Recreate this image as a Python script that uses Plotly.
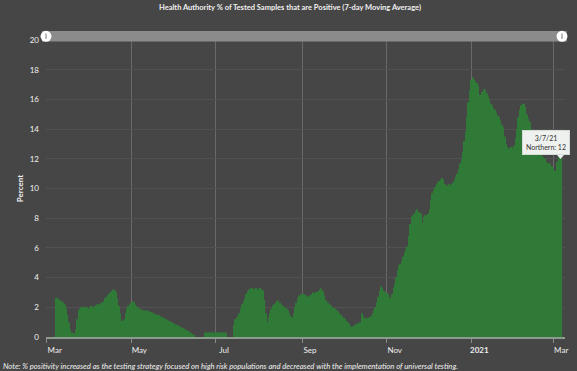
import pandas as pd
import plotly.graph_objects as go

TITLE = "Health Authority % of Tested Samples that are Positive (7-day Moving Average)"
NOTE = "Note: % positivity increased as the testing strategy focused on high risk populations and decreased with the implementation of universal testing."
SERIES_NAME = "Northern"
LAST_DATE = "2021-03-07"

# daily 7-day moving average (%), ending 2021-03-07; None = no data
values = [
    2.65, 2.6, 2.5, 2.45,
    2.4, 2.3, 2.2, 1.9,
    1.5, 1.0, 0.5, 0.3,
    0.2, 0.25, 0.5,
    1.2, 1.8, 1.9, 2.0, 2.0, 1.95, 2.05, 2.0, 1.9, 2.0, 2.1, 2.05, 2.0,
    2.1, 2.2, 2.15, 2.2, 2.3, 2.3, 2.4,
    2.6, 2.7, 2.8, 2.9, 3.0,
    3.1, 3.2, 3.15, 3.0,
    2.6, 2.1, 1.6, 1.1, 0.8,
    1.2, 1.6, 1.9, 2.1, 2.2, 2.3, 2.4, 2.35,
    2.2, 2.05, 1.95, 1.9,
    1.85, 1.8, 1.8, 1.75, 1.8, 1.75, 1.7, 1.7, 1.65,
    1.6, 1.55, 1.5, 1.5, 1.45, 1.4, 1.35,
    1.3, 1.25, 1.2, 1.15, 1.1, 1.05, 1.0,
    0.95, 0.9, 0.85, 0.8, 0.75, 0.7, 0.65, 0.6, 0.55,
    0.5, 0.45, 0.4, 0.3, 0.25, 0.2, 0.15,
    None, None, None, None, None, None, None,
    0.3, 0.3, 0.3, 0.3, 0.3, 0.3, 0.3, 0.3, 0.3, 0.3, 0.3, 0.3, 0.3, 0.3, 0.3, 0.3,
    None, None, None, None, None,
    0.8, 1.2, 1.3, 1.4, 1.6, 1.9,
    2.2, 2.4, 2.6, 2.9, 3.1, 3.2,
    3.3, 3.3, 3.2, 3.25, 3.3, 3.2, 3.25, 3.3, 3.2, 3.1,
    2.5, 1.6, 1.0, 1.3,
    1.6, 1.9, 2.1, 2.2, 2.3, 2.4, 2.45,
    2.3, 2.2, 2.1, 2.0, 2.0, 1.9, 1.8, 1.6,
    1.4, 1.3, 1.6,
    2.0, 2.3, 2.6, 2.8, 2.9, 2.8, 2.9, 2.85,
    2.8, 2.75, 2.7, 2.8, 2.9, 3.0, 2.95, 3.0, 3.05, 3.1, 3.2,
    3.27, 3.1,
    2.8, 2.5, 2.3, 2.3, 2.2, 2.1,
    2.0, 1.95, 1.9, 1.8, 1.7, 1.6, 1.5,
    1.4, 1.3, 1.2, 1.1, 1.0, 0.9, 0.7,
    0.6, 0.7, 0.8, 0.85, 0.9, 0.95, 1.0,
    1.6, 1.4,
    1.25, 1.3, 1.25, 1.3, 1.35, 1.4, 1.6,
    1.8, 2.0, 2.3, 2.7, 3.1,
    3.4, 3.3, 3.1,
    3.0, 2.95, 2.9, 2.7,
    2.6, 2.9,
    3.3, 3.6, 4.0, 4.5,
    4.8, 4.9, 5.1, 5.4, 5.7,
    5.9, 6.1, 6.8, 7.6,
    8.1, 8.2, 8.3, 8.5, 8.6, 8.4,
    8.4, 8.3,
    7.7,
    8.1, 8.2, 8.2, 8.3, 8.6,
    9.2, 9.7, 9.9, 10.1, 10.3,
    10.4, 10.5, 10.6, 10.7, 10.6,
    10.3, 10.2, 10.2, 10.3, 10.2, 10.3, 10.4,
    10.6, 10.8, 11.0, 11.3, 11.7,
    12.0, 12.5, 13.2, 13.8, 14.8,
    15.8, 16.6, 17.3,
    17.5, 17.3, 17.2, 17.1, 16.9,
    16.3, 16.1, 16.5, 16.7, 16.6,
    16.4, 16.2, 16.0, 15.7, 15.6,
    15.4, 15.3, 15.1, 14.9, 14.8, 14.6,
    14.3, 14.1, 13.5, 13.0, 12.8, 12.7,
    12.6, 12.8, 12.7, 12.9, 13.4,
    14.0, 14.8, 15.3, 15.6, 15.7,
    15.7, 15.5, 15.0, 14.7, 14.5,
    14.0, 13.8, 13.6, 13.3, 13.0, 12.8,
    12.6, 12.3, 12.2, 12.1, 12.0, 11.8,
    11.7, 11.6, 11.7, 11.5, 11.4, 11.2, 11.0,
    11.8, 12.1, 12.0, 12.0,
]

tick_dates = ["2020-03-01", "2020-05-01", "2020-07-01", "2020-09-01",
              "2020-11-01", "2021-01-01", "2021-03-01"]
tick_labels = ["Mar", "May", "Jul", "Sep", "Nov", "<b>2021</b>", "Mar"]
y_ticks = [0, 2, 4, 6, 8, 10, 12, 14, 16, 18, 20]

dates = pd.date_range(end=LAST_DATE, periods=len(values), freq="D")

BG = "#464646"
TIP_BG = "#eef1ee"
FONT = "Lato"

fig = go.Figure()
fig.add_trace(go.Bar(
    x=dates, y=values, name=SERIES_NAME,
    marker=dict(color="#2f7a36", line=dict(width=0)),
))

W, H = 577, 371
ml, mr, mt, mb = 46, 9, 40, 34
pw, ph = W - ml - mr, H - mt - mb

def px_x(px):
    return (px - ml) / pw

def px_y(py):
    return (H - mb - py) / ph

shapes = [
    dict(type="rect", xref="paper", yref="paper", x0=px_x(42), x1=px_x(570),
         y0=px_y(41.5), y1=px_y(31), fillcolor="#8b8b8b", line=dict(width=0), layer="above"),
]
for cx in (46, 565):
    shapes.append(dict(type="circle", xref="paper", yref="paper",
                       x0=px_x(cx - 5.5), x1=px_x(cx + 5.5), y0=px_y(41.8), y1=px_y(30.8),
                       fillcolor="white", line=dict(width=0), layer="above"))
    shapes.append(dict(type="rect", xref="paper", yref="paper",
                       x0=px_x(cx - 1), x1=px_x(cx + 1), y0=px_y(39), y1=px_y(33.5),
                       fillcolor="#bdbdbd", line=dict(width=0), layer="above"))
# small pointer under the tooltip
shapes.append(dict(type="path", xref="paper", yref="paper", layer="above",
                   path="M {:.5f},{:.5f} L {:.5f},{:.5f} L {:.5f},{:.5f} Z".format(
                       px_x(560), px_y(155), px_x(567), px_y(155), px_x(563.5), px_y(159)),
                   fillcolor=TIP_BG, line=dict(width=0)))

annotations = [
    dict(text="<b>" + TITLE + "</b>", xref="paper", yref="paper",
         x=px_x(291), y=px_y(7.5), xanchor="center", yanchor="middle",
         showarrow=False, font=dict(family=FONT, size=7.5, color="#f0f0f0")),
    dict(text="<i>" + NOTE + "</i>", xref="paper", yref="paper",
         x=px_x(1), y=px_y(366), xanchor="left", yanchor="middle",
         showarrow=False, font=dict(family=FONT, size=7.7, color="#f2f2f2")),
    dict(text=pd.Timestamp(LAST_DATE).strftime("%-m/%-d/%y") + "<br>" + SERIES_NAME + ": " + f"{values[-1]:g}",
         x=dates[-1], y=values[-1], xref="x", yref="y",
         xanchor="center", yanchor="bottom", xshift=-16, yshift=4,
         showarrow=False, bgcolor=TIP_BG, bordercolor="#d4dad4", borderwidth=1,
         borderpad=3, font=dict(family=FONT, size=7, color="#333333")),
]

fig.update_layout(
    width=W, height=H,
    margin=dict(l=ml, r=mr, t=mt, b=mb),
    paper_bgcolor=BG, plot_bgcolor=BG,
    font=dict(family=FONT, color="#f0f0f0", size=8),
    showlegend=False,
    bargap=0.15,
    shapes=shapes,
    annotations=annotations,
    xaxis=dict(
        type="date",
        range=["2020-02-29 12:00", "2021-03-09 12:00"],
        tickvals=tick_dates, ticktext=tick_labels,
        ticks="outside", ticklen=4, tickcolor="#8a8a8a",
        ticklabelshift=8,
        showgrid=True, gridcolor="#6a6a6a", gridwidth=1,
        showline=True, linecolor="#8e9c8e", linewidth=2,
        zeroline=False,
        tickfont=dict(size=8, color="#f0f0f0"),
    ),
    yaxis=dict(
        range=[0, 20], tickvals=y_ticks,
        showgrid=True, gridcolor="#525252", gridwidth=1,
        zeroline=False, showline=False,
        ticklabelstandoff=6,
        tickfont=dict(size=8, color="#f0f0f0"),
        title=dict(text="<b>Percent</b>", font=dict(size=8, color="#f0f0f0"), standoff=4),
    ),
)

fig.write_html("out.html", config={"displayModeBar": False},
               post_script="document.body.style.margin='0';document.body.style.background='" + BG + "';")
